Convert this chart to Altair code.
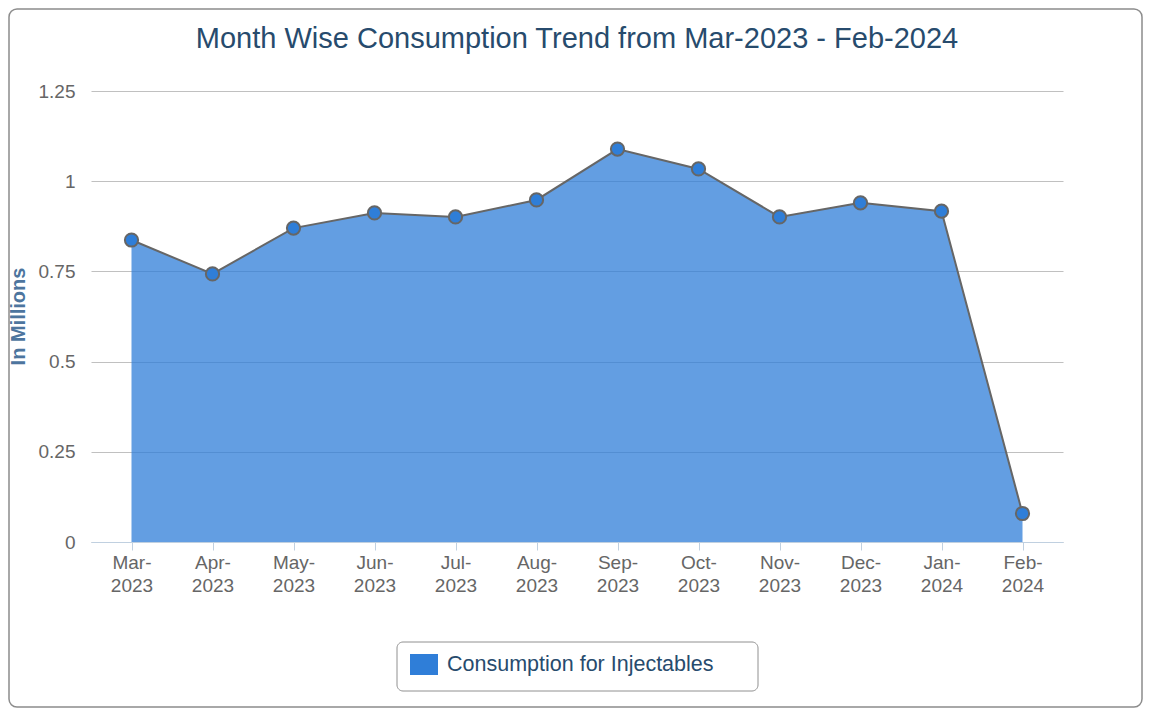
import altair as alt
import pandas as pd

months = ["Mar-2023", "Apr-2023", "May-2023", "Jun-2023", "Jul-2023", "Aug-2023",
          "Sep-2023", "Oct-2023", "Nov-2023", "Dec-2023", "Jan-2024", "Feb-2024"]
values = [0.837, 0.743, 0.870, 0.912, 0.901, 0.948, 1.089, 1.034, 0.901, 0.940, 0.917, 0.079]
series_name = "Consumption for Injectables"
y_ticks = [0, 0.25, 0.5, 0.75, 1, 1.25]
chart_title = "Month Wise Consumption Trend from Mar-2023 - Feb-2024"

df = pd.DataFrame({"month": months, "value": values, "series": [series_name] * len(months)})
one = pd.DataFrame({"t": [chart_title]})

FONT = "Liberation Sans"
W, H = 972, 451

x_enc = alt.X(
    "month:N",
    sort=months,
    scale=alt.Scale(type="point", padding=0.5),
    axis=alt.Axis(
        title="",
        labelAngle=0,
        labelExpr="[slice(datum.label, 0, 4), slice(datum.label, 4)]",
        labelLineHeight=23,
        labelFontSize=19,
        labelColor="#666666",
        labelFont=FONT,
        labelPadding=3,
        domainColor="#C0D0E0",
        domainWidth=1,
        tickColor="#C0D0E0",
        tickSize=8,
        grid=False,
    ),
)
y_enc = alt.Y(
    "value:Q",
    scale=alt.Scale(domain=[0, 1.25], nice=False),
    axis=alt.Axis(
        title="In Millions",
        titleFont=FONT,
        titleFontSize=20,
        titleFontWeight="bold",
        titleColor="#4d759e",
        titleAngle=270,
        titleX=-73,
        titleY=225,
        titleAlign="center",
        titleBaseline="middle",
        values=y_ticks,
        format=".3~g",
        labelFontSize=19,
        labelColor="#666666",
        labelFont=FONT,
        labelPadding=16,
        ticks=False,
        domain=False,
        grid=True,
        gridColor="#C0C0C0",
        gridWidth=1.2,
    ),
)

border = alt.Chart(one).mark_rect(
    fill="transparent", stroke="#8c8c8c", strokeWidth=1.5, cornerRadius=8
).encode(x=alt.value(-82), x2=alt.value(1051), y=alt.value(-82), y2=alt.value(616))

title = alt.Chart(one).mark_text(
    font=FONT, fontSize=29, color="#274b6d", align="center", baseline="middle"
).encode(text="t:N", x=alt.value(486), y=alt.value(-52))

legend_box = alt.Chart(one).mark_rect(
    fill="transparent", stroke="#909090", strokeWidth=1, cornerRadius=6
).encode(x=alt.value(306), x2=alt.value(667), y=alt.value(551), y2=alt.value(600))

area = alt.Chart(df).mark_area(opacity=0.75).encode(
    x=x_enc,
    y=y_enc,
    color=alt.Color(
        "series:N",
        scale=alt.Scale(domain=[series_name], range=["#2f7ed8"]),
        legend=alt.Legend(
            title="",
            orient="none",
            legendX=319,
            legendY=559.5,
            padding=0,
            symbolType="M-1,-0.75L1,-0.75L1,0.75L-1,0.75Z",
            symbolSize=784,
            symbolStrokeWidth=0,
            symbolOpacity=1,
            labelOffset=9,
            labelFontSize=21.5,
            labelFont=FONT,
            labelColor="#274b6d",
            labelLimit=400,
        ),
    ),
)

line = alt.Chart(df).mark_line(color="#666666", strokeWidth=2).encode(x=x_enc, y=y_enc)

points = alt.Chart(df).mark_point(
    shape="circle", filled=True, fill="#2f7ed8", stroke="#666666",
    strokeWidth=2, size=175, opacity=1
).encode(x=x_enc, y=y_enc)

chart = alt.layer(border, title, legend_box, area, line, points).properties(
    width=W,
    height=H,
    padding={"left": 83, "top": 83, "right": 80, "bottom": 166},
    autosize=alt.AutoSizeParams(type="none"),
).configure(font=FONT).configure_view(stroke=None)

chart.save("out.html", embed_options={"renderer": "svg", "actions": False})
